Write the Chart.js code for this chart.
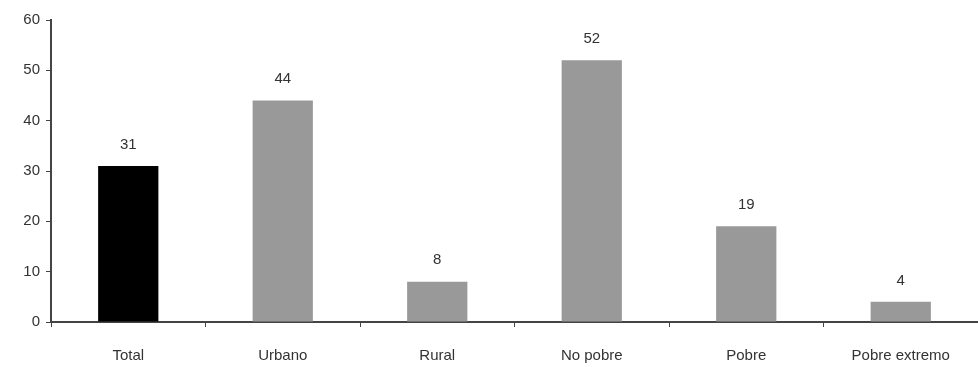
<!DOCTYPE html>
<html>
<head>
<meta charset="utf-8">
<script src="https://cdn.jsdelivr.net/npm/chart.js@4/dist/chart.umd.min.js"></script>
<style>
  html, body { margin: 0; padding: 0; background: #fff; }
  #wrap { width: 978px; height: 367px; }
</style>
</head>
<body>
<div id="wrap"><canvas id="grafico"></canvas></div>
<script>
// categorias e valores
const categorias = ['Total', 'Urbano', 'Rural', 'No pobre', 'Pobre', 'Pobre extremo'];
const valores = [31, 44, 8, 52, 19, 4];
const cores = ['#000000', '#999999', '#999999', '#999999', '#999999', '#999999'];

// rótulos acima das barras
const rotulosPlugin = {
    id: 'rotulos',
    afterDatasetsDraw(chart) {
        const ctx = chart.ctx;
        const meta = chart.getDatasetMeta(0);
        ctx.save();
        ctx.font = '15px "Liberation Sans", Arial, sans-serif';
        ctx.fillStyle = '#333';
        ctx.textAlign = 'center';
        ctx.textBaseline = 'bottom';
        meta.data.forEach((bar, i) => {
            ctx.fillText(valores[i], bar.x, bar.y - 14);
        });
        ctx.restore();
    }
};

const ctx = document.getElementById('grafico').getContext('2d');
new Chart(ctx, {
    type: 'bar',
    data: {
        labels: categorias,
        datasets: [{
            data: valores,
            backgroundColor: cores,
            borderWidth: 0,
            categoryPercentage: 1,
            barPercentage: 0.39
        }]
    },
    options: {
        responsive: true,
        maintainAspectRatio: false,
        animation: false,
        layout: { padding: { top: 20, right: 0, left: 0, bottom: 0 } },
        plugins: {
            legend: { display: false },
            tooltip: { enabled: false }
        },
        scales: {
            x: {
                grid: {
                    display: true,
                    drawOnChartArea: false,
                    color: '#444',
                    tickLength: 5,
                    offset: true
                },
                border: { color: '#444', width: 2 },
                ticks: {
                    color: '#333',
                    font: { family: '"Liberation Sans", Arial, sans-serif', size: 15 },
                    padding: 20,
                    maxRotation: 0
                },
                afterFit(scale) { scale.height = 45; }
            },
            y: {
                min: 0,
                max: 60,
                grid: {
                    display: true,
                    drawOnChartArea: false,
                    color: '#444',
                    tickLength: 5
                },
                border: { color: '#444', width: 2 },
                ticks: {
                    stepSize: 10,
                    color: '#333',
                    font: { family: '"Liberation Sans", Arial, sans-serif', size: 15 },
                    padding: 6
                },
                afterFit(scale) { scale.width = 51; }
            }
        }
    },
    plugins: [rotulosPlugin]
});
</script>
</body>
</html>
